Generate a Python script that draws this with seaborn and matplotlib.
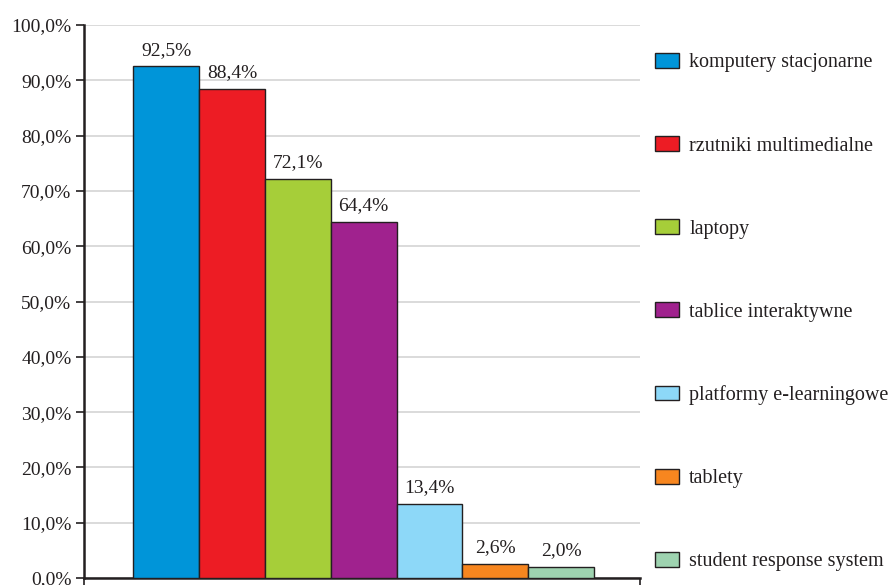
import matplotlib
matplotlib.use("Agg")
import matplotlib.pyplot as plt
import seaborn as sns
import pandas as pd
from matplotlib.patches import Patch

categories = ["komputery stacjonarne", "rzutniki multimedialne", "laptopy",
              "tablice interaktywne", "platformy e-learningowe", "tablety",
              "student response system"]
values = [92.5, 88.4, 72.1, 64.4, 13.4, 2.6, 2.0]
colors = ["#0095D9", "#ED1C24", "#A6CE39", "#A0228E", "#8DD8F8", "#F7861F", "#9ED3B0"]
yticks = [0, 10, 20, 30, 40, 50, 60, 70, 80, 90, 100]

sns.set_theme(style="white")
plt.rcParams["font.family"] = ["Liberation Serif", "DejaVu Serif"]

df = pd.DataFrame({"kategoria": categories, "wartosc": values})

fig = plt.figure(figsize=(8.93, 5.85), dpi=100)
ax = fig.add_axes([84 / 893, 7 / 585, 556 / 893, 553 / 585])

sns.barplot(data=df, x="kategoria", y="wartosc", hue="kategoria",
            palette=colors, saturation=1, width=1.0, edgecolor="#231f20",
            linewidth=1.0, legend=False, ax=ax, zorder=3)

ax.set_xlim(-1.25, 7.2)
ax.set_ylim(0, 100)
ax.set_yticks(yticks)
ax.set_yticklabels([f"{t:.1f}".replace(".", ",") + "%" for t in yticks],
                   fontsize=14, color="#231f20")
ax.set_xticks([-1.25, 7.2])
ax.set_xticklabels(["", ""])
ax.tick_params(axis="y", direction="out", length=6, width=1.2, pad=3, colors="#231f20", left=True)
ax.tick_params(axis="x", direction="out", length=6, width=1.2, colors="#231f20", bottom=True)
ax.set_xlabel("")
ax.set_ylabel("")

ax.grid(axis="y", color="#d4d4d4", linewidth=1.2, zorder=0)
ax.set_axisbelow(True)
for side in ["top", "right"]:
    ax.spines[side].set_visible(False)
for side in ["left", "bottom"]:
    ax.spines[side].set_color("#231f20")
    ax.spines[side].set_linewidth(1.8)

for i, v in enumerate(values):
    ax.text(i, v + 1.4, f"{v:.1f}".replace(".", ",") + "%", ha="center", va="bottom",
            fontsize=14, color="#231f20")

handles = [Patch(facecolor=c, edgecolor="#231f20", linewidth=1.0) for c in colors]
fig.legend(handles, categories, loc="upper left", bbox_to_anchor=(645 / 893, 1 - 43 / 585),
           frameon=False, fontsize=14.5, handlelength=1.2, handleheight=0.75,
           handletextpad=0.5, labelspacing=3.16, borderpad=0, labelcolor="#231f20")

fig.savefig("out.png", dpi=100)
